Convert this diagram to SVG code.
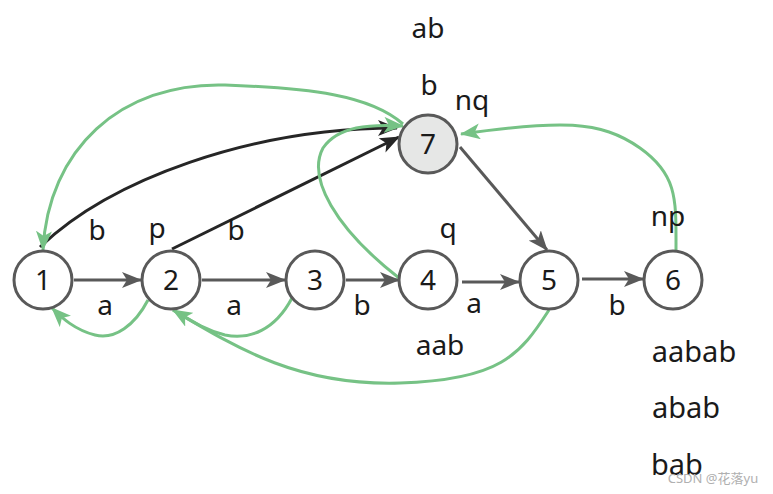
<svg xmlns="http://www.w3.org/2000/svg" width="773" height="494" viewBox="0 0 773 494">
<style>
.n{fill:#fff;stroke:#595959;stroke-width:3}
.t{font-family:"Noto Sans","Open Sans","Liberation Sans",sans-serif;font-size:28px;fill:#1a1a1a;text-anchor:middle}
.g{fill:none;stroke:#76c285;stroke-width:3}
.d{fill:none;stroke:#595959;stroke-width:3}
.k{fill:none;stroke:#262626;stroke-width:3}
</style>
<defs>
<marker id="mg" markerWidth="21" markerHeight="16" refX="19" refY="8" orient="auto" markerUnits="userSpaceOnUse"><path d="M0,0 L20,8 L0,16 L5,8 z" fill="#76c285"/></marker>
<marker id="md" markerWidth="21" markerHeight="16" refX="19" refY="8" orient="auto" markerUnits="userSpaceOnUse"><path d="M0,0 L20,8 L0,16 L5,8 z" fill="#595959"/></marker>
<marker id="mk" markerWidth="21" markerHeight="16" refX="19" refY="8" orient="auto" markerUnits="userSpaceOnUse"><path d="M0,0 L20,8 L0,16 L5,8 z" fill="#262626"/></marker>
</defs>
<g id="connectors">
<path class="d" d="M74,280 L141,280" marker-end="url(#md)"/>
<path class="d" d="M202,280 L285,280" marker-end="url(#md)"/>
<path class="d" d="M346,280 L399,280" marker-end="url(#md)"/>
<path class="d" d="M462,282 L519,282" marker-end="url(#md)"/>
<path class="d" d="M582,279 L643,279" marker-end="url(#md)"/>
<path class="d" d="M460,147 L547,250" marker-end="url(#md)"/>
<path class="k" d="M40,247 C110,180 250,128 397,128" marker-end="url(#mk)"/>
<path class="k" d="M172,249 L399,137" marker-end="url(#mk)"/>
<path class="g" d="M403,124 C370,95 310,88 225,85 C120,82 48,150 43,250" marker-end="url(#mg)"/>
<path class="g" d="M399,278 C335,228 307,178 323,148 C338,126 370,124 403,126" marker-end="url(#mg)"/>
<path class="g" d="M676,250 C676,200 678,175 640,148 C600,120 560,120 461,134" marker-end="url(#mg)"/>
<path class="g" d="M549,310 C520,355 500,380 400,383 C300,386 240,350 173,310" marker-end="url(#mg)"/>
<path class="g" d="M292,298 C275,330 250,340 225,335 C205,330 190,320 173,310"/>
<path class="g" d="M148,300 C135,325 115,340 95,335 C75,330 62,318 52,308" marker-end="url(#mg)"/>
</g>
<g id="node1"><circle class="n" cx="43" cy="280" r="29"/><text class="t" x="43" y="290">1</text></g>
<g id="node2"><circle class="n" cx="171" cy="280" r="29"/><text class="t" x="171" y="290">2</text></g>
<g id="node3"><circle class="n" cx="315" cy="280" r="29"/><text class="t" x="315" y="290">3</text></g>
<g id="node4"><circle class="n" cx="428" cy="280" r="29"/><text class="t" x="428" y="290">4</text></g>
<g id="node5"><circle class="n" cx="549" cy="280" r="29"/><text class="t" x="549" y="290">5</text></g>
<g id="node6"><circle class="n" cx="673" cy="280" r="29"/><text class="t" x="673" y="290">6</text></g>
<g id="node7"><circle class="n" cx="428" cy="144" r="29" style="fill:#e6e7e6"/><text class="t" x="428" y="154">7</text></g>
<g id="labels">
<text class="t" x="428" y="38">ab</text>
<text class="t" x="429" y="95">b</text>
<text class="t" x="472" y="110">nq</text>
<text class="t" x="97" y="240">b</text>
<text class="t" x="157" y="238">p</text>
<text class="t" x="236" y="240">b</text>
<text class="t" x="448" y="238">q</text>
<text class="t" x="668" y="226">np</text>
<text class="t" x="105" y="315">a</text>
<text class="t" x="234" y="315">a</text>
<text class="t" x="362" y="315">b</text>
<text class="t" x="474" y="313">a</text>
<text class="t" x="617" y="315">b</text>
<text class="t" x="440" y="355">aab</text>
<text class="t" x="694" y="362" style="font-size:29px">aabab</text>
<text class="t" x="686" y="418" style="font-size:29px">abab</text>
<text class="t" x="677" y="475" style="font-size:29px">bab</text>
<text x="713" y="483" style="font-family:'Noto Sans','Noto Sans CJK SC',sans-serif;font-size:13px;fill:#b0b0b0;text-anchor:middle">CSDN @花落yu</text>
</g>
</svg>
